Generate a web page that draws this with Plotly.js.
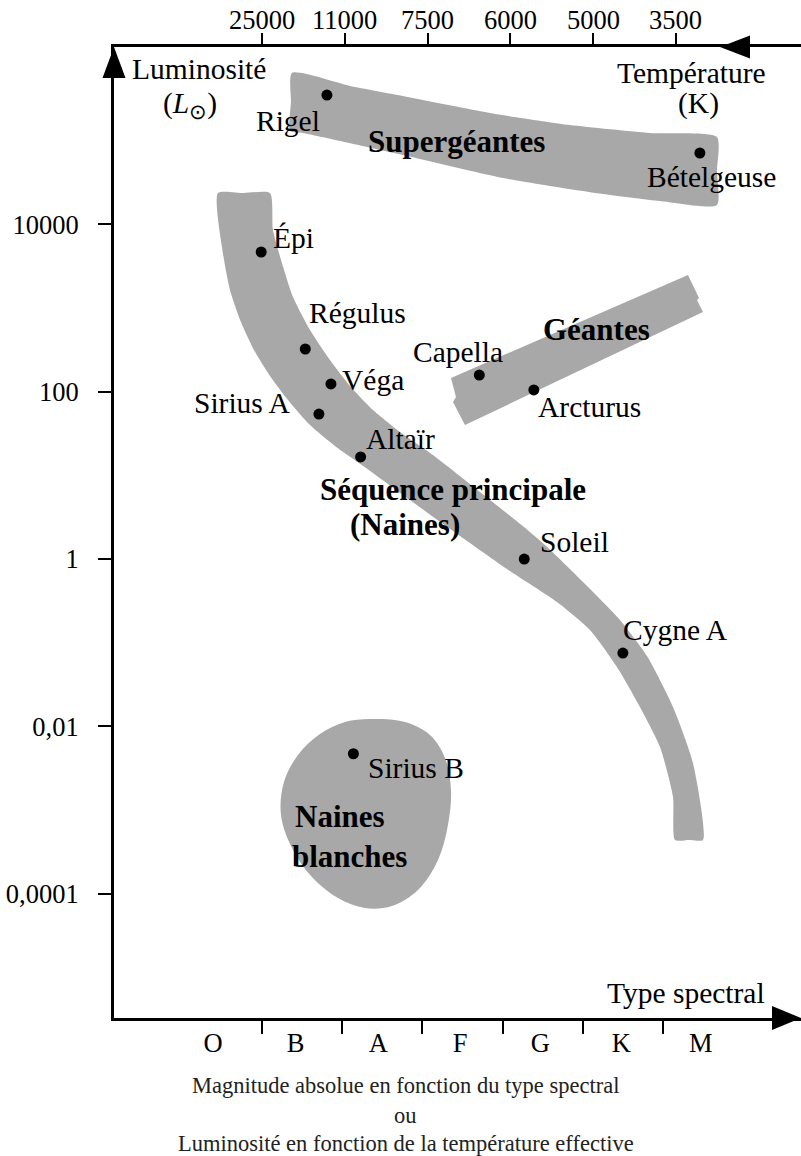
<!DOCTYPE html>
<html><head><meta charset="utf-8">
<script src="https://cdn.plot.ly/plotly-3.0.1.min.js"></script>
<style>html,body{margin:0;padding:0;background:#fff}#chart{width:801px;height:1156px}</style>
</head><body><div id="chart"></div>
<script>
// ---------- DATA ----------
// Stars: spectral position (class boundaries at 0.5,1.5,...) and luminosity (L_sun)
const starNames = ["Rigel","Bételgeuse","Épi","Régulus","Véga","Sirius A","Altaïr","Capella","Arcturus","Soleil","Cygne A","Sirius B"];
const starSpec  = [1.31, 5.96, 0.49, 1.04, 1.36, 1.21, 1.73, 3.21, 3.89, 3.77, 5.00, 1.64];
const starLum   = [352000, 71400, 4680, 324, 124, 54, 16.6, 158, 105, 1, 0.075, 0.0047];

// Supergiants band: upper and lower edges (spectral position, log10 luminosity), left to right
const sgUpperSpec = [0.874,1.597,2.258,3.343,4.340,5.338,6.173];
const sgUpperLog  = [5.810,5.655,5.535,5.332,5.188,5.093,5.045];
const sgLowerSpec = [0.849,1.011,2.258,3.505,4.752,5.463,6.173];
const sgLowerLog  = [5.117,5.093,4.830,4.555,4.364,4.280,4.232];

// Giants band outline (with the small steps at both ends)
const giSpec   = [2.857,5.812,5.949,5.924,5.999,3.031,2.882,2.919];
const giLogLum = [2.164,3.395,3.120,3.096,2.953,1.602,1.877,1.937];

// Main sequence band: inner (upper-right) edge and outer (lower-left) edge, top to bottom
const msInnerSpec = [0.600,0.637,0.749,0.887,1.099,1.348,1.597,1.884,2.221,2.632,3.218,3.767,4.029,4.503,4.964,5.301,5.625,5.874,5.999];
const msInnerLog  = [4.375,3.933,3.539,3.132,2.738,2.379,2.068,1.781,1.518,1.243,0.801,0.383,0.167,-0.275,-0.729,-1.160,-1.769,-2.439,-3.359];
const msOuterSpec = [-0.049,0.001,0.101,0.238,0.400,0.600,0.824,1.099,1.410,1.797,2.345,2.969,3.555,4.178,4.590,4.926,5.213,5.463,5.625,5.650];
const msOuterLog  = [4.375,3.730,3.216,2.833,2.499,2.188,1.901,1.602,1.351,1.088,0.705,0.275,-0.120,-0.514,-0.849,-1.291,-1.769,-2.248,-2.845,-3.359];

// White dwarfs region outline
const wdSpec = [1.847,2.283,2.595,2.782,2.857,2.819,2.695,2.445,2.121,1.784,1.448,1.123,0.874,0.737,0.774,0.949,1.223,1.535];
const wdLog  = [-1.913,-1.949,-2.104,-2.379,-2.762,-3.180,-3.598,-3.957,-4.148,-4.172,-4.053,-3.802,-3.455,-3.060,-2.666,-2.343,-2.092,-1.949];

// Region labels
const regionNames = ["Supergéantes","Géantes","Séquence principale","(Naines)","Naines","blanches"];
const regionSpec  = [2.931, 4.677, 2.882, 2.283, 0.887, 0.849];
const regionLog   = [4.997, 2.738, 0.837, 0.418, -3.084, -3.551];

// Axes
const spectralTypes    = ["O","B","A","F","G","K","M"];
const spectralLabelPos = [-0.11,0.92,1.95,2.97,3.97,4.98,5.97];
const spectralBounds   = [0.5,1.5,2.5,3.5,4.5,5.5];
const tempLabels  = ["25000","11000","7500","6000","5000","3500"];
const tempTickPos = [0,1,2,3,4,5];
const lumTicks      = [1e4, 1e2, 1, 1e-2, 1e-4];
const lumTickLabels = ["10000","100","1","0,01","0,0001"];

const captionLines = ["Magnitude absolue en fonction du type spectral","ou","Luminosité en fonction de la température effective"];

// ---------- STYLE ----------
const FONT = "'Liberation Serif', 'Times New Roman', serif";
const GREY = "#a8a8a8";
const pow10 = v => Math.pow(10, v);

// label offsets (px) relative to each star dot: [dx, dy(up)]
const labelOffsets = [[-39,-26],[12,-24],[32,14],[52,36],[42,4],[-76,11],[40,18],[-21,23],[56,-17],[50,17],[53,23],[63,-14]];

// closed band between two edges: first edge forward, end cap, second edge backward, start cap
function twoEdgeBand(x1, l1, x2, l2, smoothing){
  const n1 = x1.length - 1, n2 = x2.length - 1;
  const xs = x1.concat([(x1[n1]+x2[n2])/2], x2.slice().reverse(), [(x2[0]+x1[0])/2, x1[0]]);
  const ls = l1.concat([(l1[n1]+l2[n2])/2], l2.slice().reverse(), [(l2[0]+l1[0])/2, l1[0]]);
  return {type:"scatter", mode:"lines", x:xs, y:ls.map(pow10), fill:"toself", fillcolor:GREY,
          line:{width:0, color:GREY, shape:"spline", smoothing:smoothing}, hoverinfo:"skip", xaxis:"x", yaxis:"y"};
}
function region(xs, ls, shape){
  return {type:"scatter", mode:"lines", x:xs.concat([xs[0]]), y:ls.concat([ls[0]]).map(pow10), fill:"toself", fillcolor:GREY,
          line:{width:0, color:GREY, shape:shape}, hoverinfo:"skip", xaxis:"x", yaxis:"y"};
}

const traces = [
  twoEdgeBand(sgUpperSpec, sgUpperLog, sgLowerSpec, sgLowerLog, 0.6),
  region(giSpec, giLogLum, "linear"),
  twoEdgeBand(msInnerSpec, msInnerLog, msOuterSpec, msOuterLog, 0.6),
  region(wdSpec, wdLog, "spline"),
  {type:"scatter", mode:"markers", x:starSpec, y:starLum, marker:{size:11, color:"#000"}, hoverinfo:"text", text:starNames, xaxis:"x", yaxis:"y"},
  {type:"scatter", mode:"markers", x:[tempTickPos[0]], y:[1], marker:{opacity:0}, hoverinfo:"skip", xaxis:"x2", yaxis:"y"},
  {type:"scatter", mode:"markers", x:[spectralLabelPos[0]], y:[1], marker:{opacity:0}, hoverinfo:"skip", xaxis:"x3", yaxis:"y"}
];

const annotations = [];
starNames.forEach((n,i)=>{
  annotations.push({x:starSpec[i], y:Math.log10(starLum[i]), xref:"x", yref:"y", text:n, showarrow:false,
    xshift:labelOffsets[i][0], yshift:labelOffsets[i][1], xanchor:"center", yanchor:"middle",
    font:{family:FONT, size:29.5, color:"#000"}});
});
regionNames.forEach((n,i)=>{
  annotations.push({x:regionSpec[i], y:regionLog[i], xref:"x", yref:"y", text:"<b>"+n+"</b>", showarrow:false,
    xanchor: i>=4 ? "left" : "center", yanchor:"middle", font:{family:FONT, size:31, color:"#000"}});
});
// temperature tick labels (top axis)
tempLabels.forEach((t,i)=>annotations.push({x:tempTickPos[i], y:1.0278, xref:"x2", yref:"paper", text:t, showarrow:false,
  xanchor:"center", yanchor:"middle", font:{family:FONT, size:26.5, color:"#000"}}));
// axis captions inside the frame
const axisTexts = [
  {t:"Luminosité", x:0.1230, y:0.9773},
  {t:"(<i>L</i><sub>⊙</sub>)", x:0.1106, y:0.9403},
  {t:"Température", x:0.8413, y:0.9732},
  {t:"(K)", x:0.8501, y:0.9423},
  {t:"Type spectral", x:0.8326, y:0.0257}
];
axisTexts.forEach(a=>annotations.push({x:a.x, y:a.y, xref:"paper", yref:"paper", text:a.t, showarrow:false,
  xanchor:"center", yanchor:"middle", font:{family:FONT, size:29.5, color:"#000"}}));
const captionY = [-0.0700,-0.1000,-0.1288];
captionLines.forEach((t,i)=>annotations.push({x:0.425, y:captionY[i], xref:"paper", yref:"paper", text:t, showarrow:false,
  xanchor:"center", yanchor:"middle", borderpad:0, font:{family:FONT, size:22.5, color:"#222"}}));

const arrowStyle = {type:"path", xref:"paper", yref:"paper", xsizemode:"pixel", ysizemode:"pixel", fillcolor:"#000", line:{width:0}, layer:"above"};
const shapes = [
  Object.assign({}, arrowStyle, {xanchor:0, yanchor:1, path:"M0,0 L-11.5,-31 L11.5,-31 Z"}),
  Object.assign({}, arrowStyle, {xanchor:0.8821, yanchor:1, path:"M0,0 L30,11.5 L30,-11.5 Z"}),
  Object.assign({}, arrowStyle, {xanchor:1, yanchor:0, path:"M0,0 L-29,12 L-29,-12 Z"})
];

const tickFont = {family:FONT, size:26.5, color:"#000"};
const layout = {
  width:801, height:1156, margin:{l:114, r:0, t:47, b:138},
  paper_bgcolor:"#fff", plot_bgcolor:"#fff", showlegend:false,
  xaxis:{range:[-1.345, 7.221], showline:true, linecolor:"#000", linewidth:3, ticks:"outside", ticklen:13, tickwidth:2, tickcolor:"#000",
         tickvals:spectralBounds, showticklabels:false, showgrid:false, zeroline:false, fixedrange:true},
  xaxis2:{overlaying:"x", side:"top", anchor:"y", range:[-1.787, 6.510], showline:true, linecolor:"#000", linewidth:3,
          ticks:"outside", ticklen:11, tickwidth:2, tickcolor:"#000", tickvals:tempTickPos, showticklabels:false,
          showgrid:false, zeroline:false, fixedrange:true},
  xaxis3:{overlaying:"x", side:"bottom", anchor:"y", range:[-1.345, 7.221], showline:false, ticks:"", tickvals:spectralLabelPos,
          ticktext:spectralTypes, tickfont:tickFont, showgrid:false, zeroline:false, fixedrange:true, ticklabelstandoff:6},
  yaxis:{type:"log", range:[-5.487, 6.121], showline:true, linecolor:"#000", linewidth:3, ticks:"outside", ticklen:13, tickwidth:2, tickcolor:"#000",
         tickvals:lumTicks, ticktext:lumTickLabels, tickfont:tickFont, showgrid:false, zeroline:false, fixedrange:true, ticklabelstandoff:14},
  annotations:annotations, shapes:shapes
};
Plotly.newPlot("chart", traces, layout, {displayModeBar:false, staticPlot:true});
</script></body></html>
